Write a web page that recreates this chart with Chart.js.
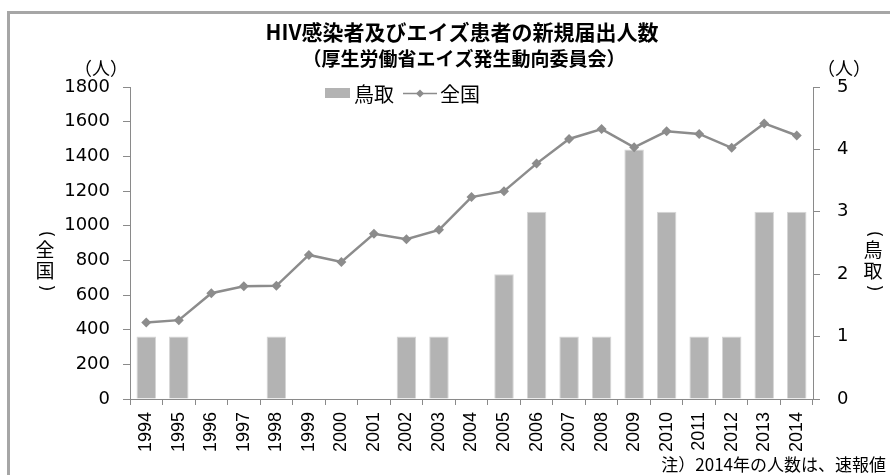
<!DOCTYPE html>
<html lang="ja">
<head>
<meta charset="utf-8">
<script src="https://cdn.jsdelivr.net/npm/chart.js@4.4.1/dist/chart.umd.min.js"></script>
<style>
  body { margin: 0; background: #fff; }
  canvas { display: block; }
</style>
</head>
<body>
<canvas id="hivChart" width="890" height="475"></canvas>
<script>
// data
const years = ['1994', '1995', '1996', '1997', '1998', '1999', '2000', '2001', '2002', '2003',
               '2004', '2005', '2006', '2007', '2008', '2009', '2010', '2011', '2012', '2013', '2014'];
const tottori = [1, 1, 0, 0, 1, 0, 0, 0, 1, 1, 0, 2, 3, 1, 1, 4, 3, 1, 1, 3, 3];
const national = [442, 455, 610, 650, 653, 831, 791, 953, 922, 976,
                  1165, 1199, 1358, 1500, 1557, 1452, 1544, 1529, 1449, 1590, 1520];
const leftMax = 1800, leftStep = 200;
const rightMax = 5, rightStep = 1;

const titleText = 'HIV感染者及びエイズ患者の新規届出人数';
const subtitleText = '（厚生労働省エイズ発生動向委員会）';
const unitText = '（人）';
const noteText = '注）2014年の人数は、速報値';
const leftAxisTitle = ['全', '国'];
const rightAxisTitle = ['鳥', '取'];

const JP = '"Noto Sans CJK JP", sans-serif';
const barColor = '#b3b3b3';
const lineColor = '#8c8c8c';
const axisColor = '#8a8a8a';

// vertical title: rotated parens around stacked characters
function drawVertical(c, chars, x) {
  c.textAlign = 'center';
  c.textBaseline = 'middle';
  c.font = '17px "DejaVu Sans", sans-serif';
  c.save();
  c.translate(x, 234);
  c.rotate(Math.PI / 2);
  c.fillText('(', 0, 0);
  c.restore();
  c.save();
  c.translate(x, 288);
  c.rotate(Math.PI / 2);
  c.fillText(')', 0, 0);
  c.restore();
  c.font = '19px ' + JP;
  c.fillText(chars[0], x, 250);
  c.fillText(chars[1], x, 271);
}

// titles, legend, units, frame
const decorations = {
  id: 'decorations',
  afterDraw(chart) {
    const c = chart.ctx;
    c.save();
    // frame (top + left edge only)
    c.strokeStyle = '#a6a6a6';
    c.lineWidth = 3;
    c.beginPath();
    c.moveTo(8.5, 475);
    c.lineTo(8.5, 12.5);
    c.lineTo(890, 12.5);
    c.stroke();

    c.fillStyle = '#000';
    c.textAlign = 'center';
    c.textBaseline = 'middle';
    c.font = 'bold 21px ' + JP;
    c.fillText(titleText, 462, 32);
    c.font = 'bold 19px ' + JP;
    c.fillText(subtitleText, 464, 59);

    c.font = '18px ' + JP;
    c.fillText(unitText, 101, 68);
    c.fillText(unitText, 844, 68);

    drawVertical(c, leftAxisTitle, 45);
    drawVertical(c, rightAxisTitle, 873);

    // legend
    c.fillStyle = barColor;
    c.fillRect(325, 88, 25, 10);
    c.fillStyle = '#000';
    c.textAlign = 'left';
    c.font = '20px ' + JP;
    c.fillText('鳥取', 354, 94);
    c.strokeStyle = lineColor;
    c.lineWidth = 1.5;
    c.beginPath();
    c.moveTo(403, 93.5);
    c.lineTo(437, 93.5);
    c.stroke();
    c.fillStyle = lineColor;
    c.beginPath();
    c.moveTo(420, 89.5); c.lineTo(424, 93.5); c.lineTo(420, 97.5); c.lineTo(416, 93.5);
    c.closePath();
    c.fill();
    c.fillStyle = '#000';
    c.fillText('全国', 440, 94);

    // footnote
    c.textAlign = 'right';
    c.font = '17px ' + JP;
    c.fillText(noteText, 886, 465);
    c.restore();
  }
};

const ctx = document.getElementById('hivChart').getContext('2d');
new Chart(ctx, {
  data: {
    labels: years,
    datasets: [
      {
        type: 'line',
        label: '全国',
        data: national,
        yAxisID: 'y',
        borderColor: lineColor,
        backgroundColor: lineColor,
        borderWidth: 2.5,
        pointStyle: 'rectRot',
        pointRadius: 5,
        pointBorderWidth: 0,
        tension: 0,
        order: 0
      },
      {
        type: 'bar',
        label: '鳥取',
        data: tottori,
        yAxisID: 'y1',
        backgroundColor: barColor,
        borderColor: '#d6d6d6',
        borderWidth: 1,
        barPercentage: 0.6,
        categoryPercentage: 1,
        order: 1
      }
    ]
  },
  options: {
    responsive: false,
    animation: false,
    layout: { padding: { top: 87, left: 0, right: 0, bottom: 0 } },
    plugins: {
      legend: { display: false },
      title: { display: false },
      tooltip: { enabled: false }
    },
    scales: {
      x: {
        offset: true,
        afterFit(scale) { scale.height = 76; },
        grid: { offset: true, drawOnChartArea: false, tickLength: 6, color: axisColor },
        border: { color: axisColor },
        ticks: {
          minRotation: 90,
          maxRotation: 90,
          autoSkip: false,
          padding: 7,
          color: '#000',
          font: { family: '"Liberation Sans", Arial, sans-serif', size: 18 }
        }
      },
      y: {
        position: 'left',
        min: 0,
        max: leftMax,
        afterFit(scale) { scale.width = 130; },
        grid: { drawOnChartArea: false, tickLength: 7, color: axisColor },
        border: { color: axisColor },
        ticks: {
          stepSize: leftStep,
          padding: 13,
          color: '#000',
          callback: v => String(v),
          font: { family: '"DejaVu Sans", sans-serif', size: 18 }
        }
      },
      y1: {
        position: 'right',
        min: 0,
        max: rightMax,
        afterFit(scale) { scale.width = 77; },
        grid: { drawOnChartArea: false, tickLength: 7, color: axisColor },
        border: { color: axisColor },
        ticks: {
          stepSize: rightStep,
          padding: 17,
          color: '#000',
          callback: v => String(v),
          font: { family: '"DejaVu Sans", sans-serif', size: 18 }
        }
      }
    }
  },
  plugins: [decorations]
});
</script>
</body>
</html>
